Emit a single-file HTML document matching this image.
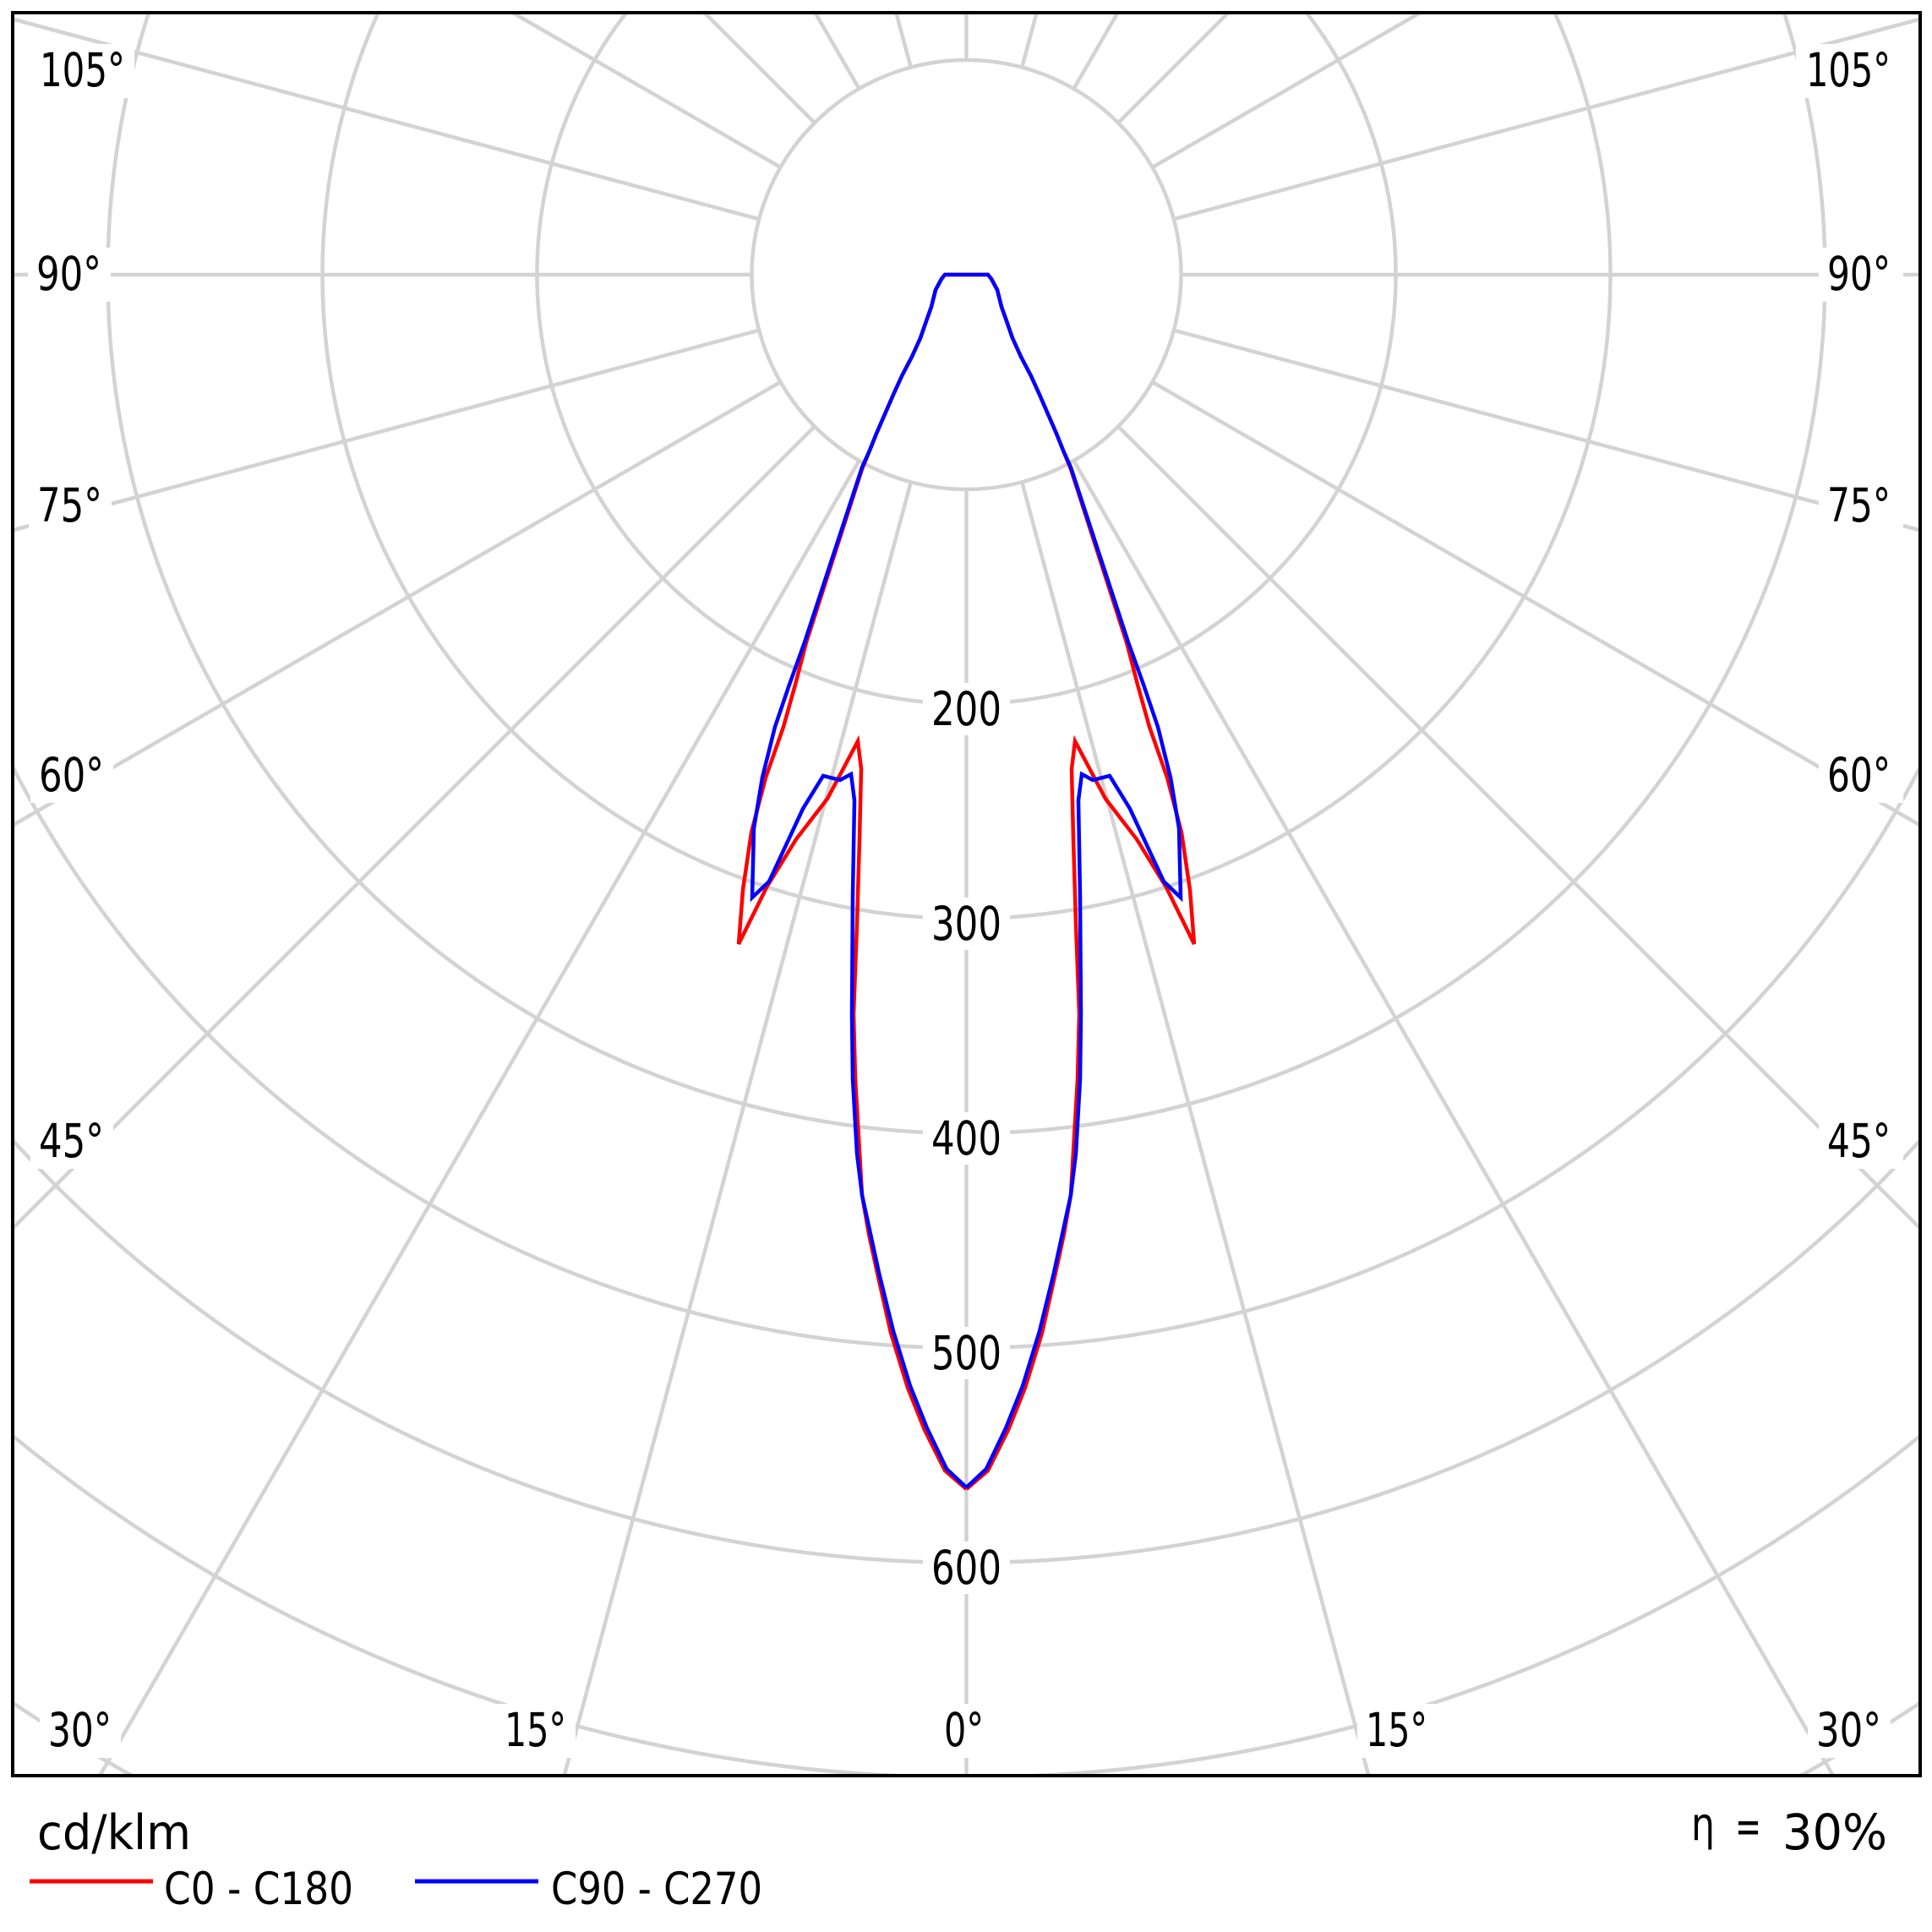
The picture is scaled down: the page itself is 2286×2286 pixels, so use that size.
<!DOCTYPE html>
<html>
<head>
<meta charset="utf-8">
<style>
  html, body { margin: 0; padding: 0; background: #ffffff; width: 2286px; height: 2286px; overflow: hidden; }
  svg { display: block; position: absolute; left: 0; top: 0; }
  text { font-family: "DejaVu Sans Condensed", "DejaVu Sans", "Liberation Sans", sans-serif; fill: #000; }
</style>
</head>
<body>
<svg width="2286" height="2286" viewBox="0 0 2286 2286" xmlns="http://www.w3.org/2000/svg">
  <defs>
    <clipPath id="plotclip">
      <rect x="17" y="17" width="2253" height="2082"/>
    </clipPath>
  </defs>
  <rect x="0" y="0" width="2286" height="2286" fill="#ffffff"/>

  <g clip-path="url(#plotclip)">
    <!-- circles / visible arcs -->
    <g fill="none" stroke="#d3d3d3" stroke-width="4.5">
      <circle cx="1143.5" cy="325" r="254"/>
      <path d="M 741.05 15 A 508 508 0 1 0 1545.95 15"/>
      <path d="M 447.41 15 A 762 762 0 1 0 1839.59 15"/>
      <path d="M 175.95 15 A 1016 1016 0 1 0 2111.05 15"/>
      <path d="M 15 907.57 A 1270 1270 0 0 0 2272 907.57"/>
      <path d="M 15 1349.24 A 1524 1524 0 0 0 2272 1349.24"/>
      <path d="M 15 1698.96 A 1778 1778 0 0 0 2272 1698.96"/>
      <path d="M 15 2014.83 A 2032 2032 0 0 0 156.15 2101"/>
      <path d="M 2130.85 2101 A 2032 2032 0 0 0 2272 2014.83"/>
    </g>
    <!-- radial lines -->
    <g stroke="#d3d3d3" stroke-width="4.5">
      <line x1="1143.5" y1="579" x2="1143.5" y2="2101"/>
      <line x1="1209.24" y1="570.35" x2="1619.4" y2="2101"/>
      <line x1="1270.5" y1="544.97" x2="2168.9" y2="2101"/>
      <line x1="1323.1" y1="504.6" x2="2272" y2="1453.5"/>
      <line x1="1363.47" y1="452" x2="2272" y2="976.5"/>
      <line x1="1388.85" y1="390.74" x2="2272" y2="627.4"/>
      <line x1="1397.5" y1="325" x2="2272" y2="325"/>
      <line x1="1388.85" y1="259.26" x2="2272" y2="22.6"/>
      <line x1="1363.47" y1="198" x2="1680.4" y2="15"/>
      <line x1="1323.1" y1="145.4" x2="1453.5" y2="15"/>
      <line x1="1270.5" y1="105.03" x2="1322.5" y2="15"/>
      <line x1="1209.24" y1="79.65" x2="1226.6" y2="15"/>
      <line x1="1143.5" y1="71" x2="1143.5" y2="15"/>
      <line x1="1077.76" y1="570.35" x2="667.6" y2="2101"/>
      <line x1="1016.5" y1="544.97" x2="118.1" y2="2101"/>
      <line x1="963.9" y1="504.6" x2="15" y2="1453.5"/>
      <line x1="923.53" y1="452" x2="15" y2="976.5"/>
      <line x1="898.15" y1="390.74" x2="15" y2="627.4"/>
      <line x1="889.5" y1="325" x2="15" y2="325"/>
      <line x1="898.15" y1="259.26" x2="15" y2="22.6"/>
      <line x1="923.53" y1="198" x2="606.6" y2="15"/>
      <line x1="963.9" y1="145.4" x2="833.5" y2="15"/>
      <line x1="1016.5" y1="105.03" x2="964.5" y2="15"/>
      <line x1="1077.76" y1="79.65" x2="1060.4" y2="15"/>
    </g>

    <!-- label background boxes -->
    <g fill="#ffffff">
      <rect x="37" y="52" width="122" height="64"/>
      <rect x="33" y="293" width="98" height="64"/>
      <rect x="34" y="567" width="98" height="64"/>
      <rect x="36" y="886" width="98" height="64"/>
      <rect x="36" y="1319" width="98" height="64"/>
      <rect x="47" y="2016" width="96" height="64"/>
      <rect x="587" y="2016" width="94" height="64"/>
      <rect x="1107" y="2016" width="68" height="64"/>
      <rect x="1606" y="2016" width="94" height="64"/>
      <rect x="2139" y="2016" width="98" height="64"/>
      <rect x="2152" y="1319" width="100" height="64"/>
      <rect x="2152" y="886" width="100" height="64"/>
      <rect x="2152" y="567" width="100" height="64"/>
      <rect x="2152" y="293" width="100" height="64"/>
      <rect x="2125" y="52" width="127" height="64"/>
      <rect x="1092" y="808" width="103" height="62"/>
      <rect x="1092" y="1062" width="103" height="62"/>
      <rect x="1092" y="1316" width="103" height="62"/>
      <rect x="1092" y="1570" width="103" height="62"/>
      <rect x="1092" y="1824" width="103" height="62"/>
    </g>

    <!-- angle labels -->
    <g font-size="55">
      <text x="47" y="102" textLength="101" lengthAdjust="spacingAndGlyphs">105°</text>
      <text x="43" y="343" textLength="77" lengthAdjust="spacingAndGlyphs">90°</text>
      <text x="44" y="617" textLength="77" lengthAdjust="spacingAndGlyphs">75°</text>
      <text x="46" y="936" textLength="77" lengthAdjust="spacingAndGlyphs">60°</text>
      <text x="46" y="1369" textLength="77" lengthAdjust="spacingAndGlyphs">45°</text>
      <text x="57" y="2066" textLength="75" lengthAdjust="spacingAndGlyphs">30°</text>
      <text x="597" y="2066" textLength="73" lengthAdjust="spacingAndGlyphs">15°</text>
      <text x="1117" y="2066" textLength="47" lengthAdjust="spacingAndGlyphs">0°</text>
      <text x="1616" y="2066" textLength="73" lengthAdjust="spacingAndGlyphs">15°</text>
      <text x="2149" y="2066" textLength="77" lengthAdjust="spacingAndGlyphs">30°</text>
      <text x="2162" y="1369" textLength="75" lengthAdjust="spacingAndGlyphs">45°</text>
      <text x="2162" y="936" textLength="75" lengthAdjust="spacingAndGlyphs">60°</text>
      <text x="2162" y="617" textLength="75" lengthAdjust="spacingAndGlyphs">75°</text>
      <text x="2162" y="343" textLength="75" lengthAdjust="spacingAndGlyphs">90°</text>
      <text x="2137" y="102" textLength="100" lengthAdjust="spacingAndGlyphs">105°</text>
    </g>
    <!-- radial labels -->
    <g font-size="55" text-anchor="middle">
      <text x="1143.5" y="858" textLength="83" lengthAdjust="spacingAndGlyphs">200</text>
      <text x="1143.5" y="1112" textLength="83" lengthAdjust="spacingAndGlyphs">300</text>
      <text x="1143.5" y="1366" textLength="83" lengthAdjust="spacingAndGlyphs">400</text>
      <text x="1143.5" y="1620" textLength="83" lengthAdjust="spacingAndGlyphs">500</text>
      <text x="1143.5" y="1874" textLength="83" lengthAdjust="spacingAndGlyphs">600</text>
    </g>

    <!-- C0 - C180 (red) -->
    <polyline fill="none" stroke="#ff0000" stroke-width="4.5" stroke-linejoin="miter" stroke-miterlimit="4"
      points="1143.5,1762 1169,1740 1193,1692 1213,1642 1233,1577 1249,1506 1259,1460 1267,1414 1270,1362 1275,1277 1277,1200 1273,1093 1270,993 1268,910 1272,877 1308,945 1345,993 1380,1050 1413,1117 1408,1053 1398,985 1381,920 1360,860 1346,810 1333,760 1267,555 1258,533 1250,513 1240,490 1230,467 1220,445 1208,422 1198,400 1190,377 1185,363 1180,343 1173,330 1169,325 1143.5,325 1118,325 1114,330 1107,343 1102,363 1097,377 1089,400 1079,422 1067,445 1057,467 1047,490 1037,513 1029,533 1020,555 954,760 941,810 927,860 906,920 889,985 879,1053 874,1117 907,1050 942,993 979,945 1015,877 1019,910 1017,993 1014,1093 1010,1200 1012,1277 1017,1362 1020,1414 1028,1460 1038,1506 1054,1577 1074,1642 1094,1692 1118,1740 1143.5,1762"/>

    <!-- C90 - C270 (blue) -->
    <polyline fill="none" stroke="#0000ff" stroke-width="4.5" stroke-linejoin="miter" stroke-miterlimit="4"
      points="1143.5,1760 1167,1738 1190,1690 1210,1640 1230,1575 1247,1506 1257,1460 1267,1414 1273,1365 1278,1277 1279,1200 1278,1060 1276,947 1280,916 1293,923 1313,918 1337,957 1377,1043 1397,1062 1395,980 1385,920 1370,860 1353,810 1335,760 1267,553 1258,533 1250,513 1240,490 1230,467 1220,445 1208,422 1198,400 1190,377 1185,363 1180,343 1173,330 1169,325 1143.5,325 1118,325 1114,330 1107,343 1102,363 1097,377 1089,400 1079,422 1067,445 1057,467 1047,490 1037,513 1029,533 1020,553 952,760 934,810 917,860 902,920 892,980 890,1062 910,1043 950,957 974,918 994,923 1007,916 1011,947 1009,1060 1008,1200 1009,1277 1014,1365 1020,1414 1030,1460 1040,1506 1057,1575 1077,1640 1097,1690 1120,1738 1143.5,1760"/>
  </g>

  <!-- frame -->
  <rect x="15" y="15" width="2257" height="2086" fill="none" stroke="#000000" stroke-width="4"/>

  <!-- legend -->
  <text x="44" y="2188" font-size="57" textLength="182" lengthAdjust="spacingAndGlyphs">cd/klm</text>
  <line x1="35" y1="2226" x2="181" y2="2226" stroke="#ff0000" stroke-width="5"/>
  <text x="194" y="2253" font-size="53" textLength="224" lengthAdjust="spacingAndGlyphs">C0 - C180</text>
  <line x1="491" y1="2226" x2="637" y2="2226" stroke="#0000ff" stroke-width="5"/>
  <text x="652" y="2253" font-size="53" textLength="250" lengthAdjust="spacingAndGlyphs">C90 - C270</text>

  <text x="2001" y="2177" font-size="54" textLength="28" lengthAdjust="spacingAndGlyphs">η</text>
  <text x="2053" y="2180" font-size="54" textLength="31" lengthAdjust="spacingAndGlyphs">=</text>
  <text x="2109" y="2188" font-size="58" textLength="124" lengthAdjust="spacingAndGlyphs">30%</text>
</svg>
</body>
</html>
